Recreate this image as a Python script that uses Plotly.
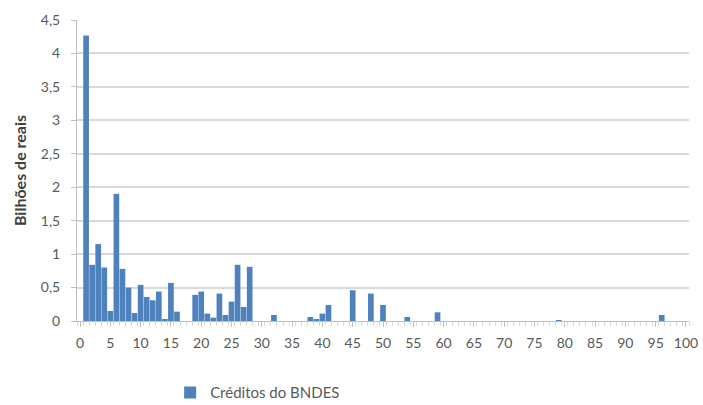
import plotly.graph_objects as go

# Category number (1..100) and BNDES credit in billions of reais
categorias = [1, 2, 3, 4, 5, 6, 7, 8, 9, 10, 11, 12, 13, 14, 15, 16,
              19, 20, 21, 22, 23, 24, 25, 26, 27, 28,
              32, 38, 39, 40, 41, 45, 48, 50, 54, 59, 79, 96]
creditos = [4.27, 0.84, 1.15, 0.80, 0.15, 1.90, 0.78, 0.50, 0.12, 0.54, 0.36, 0.31, 0.44, 0.03, 0.57, 0.14,
            0.39, 0.44, 0.11, 0.05, 0.41, 0.09, 0.29, 0.84, 0.21, 0.81,
            0.09, 0.06, 0.02, 0.11, 0.24, 0.46, 0.41, 0.24, 0.06, 0.13, 0.01, 0.09]

serie_nome = "Créditos do BNDES"
titulo_y = "Bilhões de reais"

cinza_texto = "#595959"
fonte = "Lato, 'Open Sans', sans-serif"

fig = go.Figure()
fig.add_trace(go.Bar(
    x=categorias,
    y=creditos,
    name=serie_nome,
    marker=dict(color="#4F81BD", line=dict(width=0)),
    showlegend=True,
))

fig.update_layout(
    width=703,
    height=405,
    margin=dict(l=77, r=14, t=20, b=84, autoexpand=False),
    paper_bgcolor="white",
    plot_bgcolor="white",
    bargap=0.06,
    separators=",.",
    font=dict(family=fonte, size=14, color=cinza_texto),
    showlegend=True,
    legend=dict(
        orientation="h",
        xref="container", x=0.242, xanchor="left",
        yref="container", y=0.03, yanchor="middle",
        font=dict(size=15, color=cinza_texto),
        itemwidth=30,
    ),
    xaxis=dict(
        range=[-0.5, 100.5],
        automargin=False,
        tickmode="linear",
        tick0=0,
        dtick=5,
        ticks="outside",
        ticklen=5,
        tickcolor="#BFBFBF",
        ticklabelstandoff=4,
        showline=True,
        linecolor="#BFBFBF",
        showgrid=False,
        zeroline=False,
        minor=dict(dtick=1, tick0=0.5, ticks="outside", ticklen=4, tickcolor="#D9D9D9"),
        tickfont=dict(size=14, color=cinza_texto),
    ),
    yaxis=dict(
        range=[0, 4.5],
        automargin=False,
        tickmode="linear",
        tick0=0,
        dtick=0.5,
        ticks="outside",
        ticklen=5,
        tickcolor="#BFBFBF",
        ticklabelstandoff=8,
        showline=True,
        linecolor="#BFBFBF",
        showgrid=True,
        gridcolor="#D9D9D9",
        gridwidth=1.5,
        zeroline=False,
        tickfont=dict(size=14, color=cinza_texto),
        title=dict(text="<b>" + titulo_y + "</b>", font=dict(size=16, color="#404040"), standoff=10),
    ),
)

fig.write_html("out.html")
